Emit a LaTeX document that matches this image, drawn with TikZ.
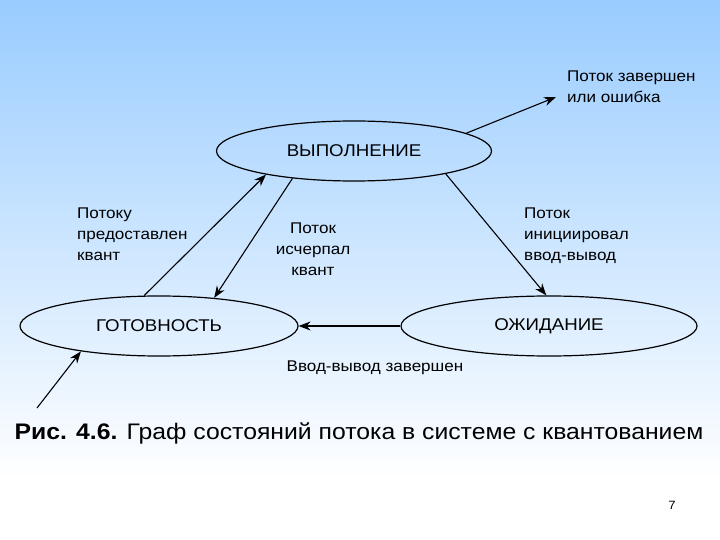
\documentclass[tikz,border=0pt]{standalone}
\usepackage{fontspec}
\setmainfont[FakeStretch=1.1]{Liberation Sans}
\usetikzlibrary{arrows.meta,shapes.geometric}
\definecolor{skyblue}{RGB}{153,204,255}

\begin{document}
\begin{tikzpicture}[x=1pt,y=-1pt,
  state/.style={draw=black, ellipse, line width=1.2pt, minimum height=60pt, inner sep=0pt, font=\fontsize{17}{18}\selectfont},
  lbl/.style={inner sep=0pt, align=left, font=\fontsize{15.5}{21}\selectfont},
  tr/.style={line width=1.1pt, -{Stealth[length=12pt,width=9pt]}}]
\useasboundingbox (0,0) rectangle (720,540);
\shade[top color=skyblue, bottom color=white] (0,0) rectangle (720,480);
\fill[white] (0,480) rectangle (720,540);

\node[state, minimum width=275pt] (run) at (354,151) {ВЫПОЛНЕНИЕ};
\node[state, minimum width=278pt] (ready) at (159,326) {ГОТОВНОСТЬ};
\node[state, minimum width=296pt] (wait) at (549,326) {ОЖИДАНИЕ};

\node[lbl, anchor=north west] (done) at (567,71) {Поток завершен\\или ошибка};
\node[lbl, anchor=north west] (given) at (77,208) {Потоку\\предоставлен\\квант};
\node[lbl, anchor=north, align=center] (spent) at (313,223) {Поток\\исчерпал\\квант};
\node[lbl, anchor=north west] (io) at (524,208) {Поток\\инициировал\\ввод-вывод};
\node[lbl] (iodone) at (375,368) {Ввод-вывод завершен};

\coordinate (exit) at (556,97);
\coordinate (enter) at (37,408);

\draw[tr] (run.9) -- (exit);
\draw[tr] (ready.116) -- (run.195);
\draw[tr] (run.204) -- (ready.27);
\draw[tr] (run.346) -- (wait.95);
\draw[tr] (wait.west) -- (ready.east);
\draw[tr] (enter) -- (ready.198);

\node[inner sep=0pt, font=\fontsize{22.5}{24}\selectfont] (caption) at (359,433) {\textbf{Рис. 4.6.} Граф состояний потока в системе с квантованием};
\node[inner sep=0pt, font=\fontsize{12}{14}\selectfont] (page) at (672,505) {7};
\end{tikzpicture}
\end{document}
